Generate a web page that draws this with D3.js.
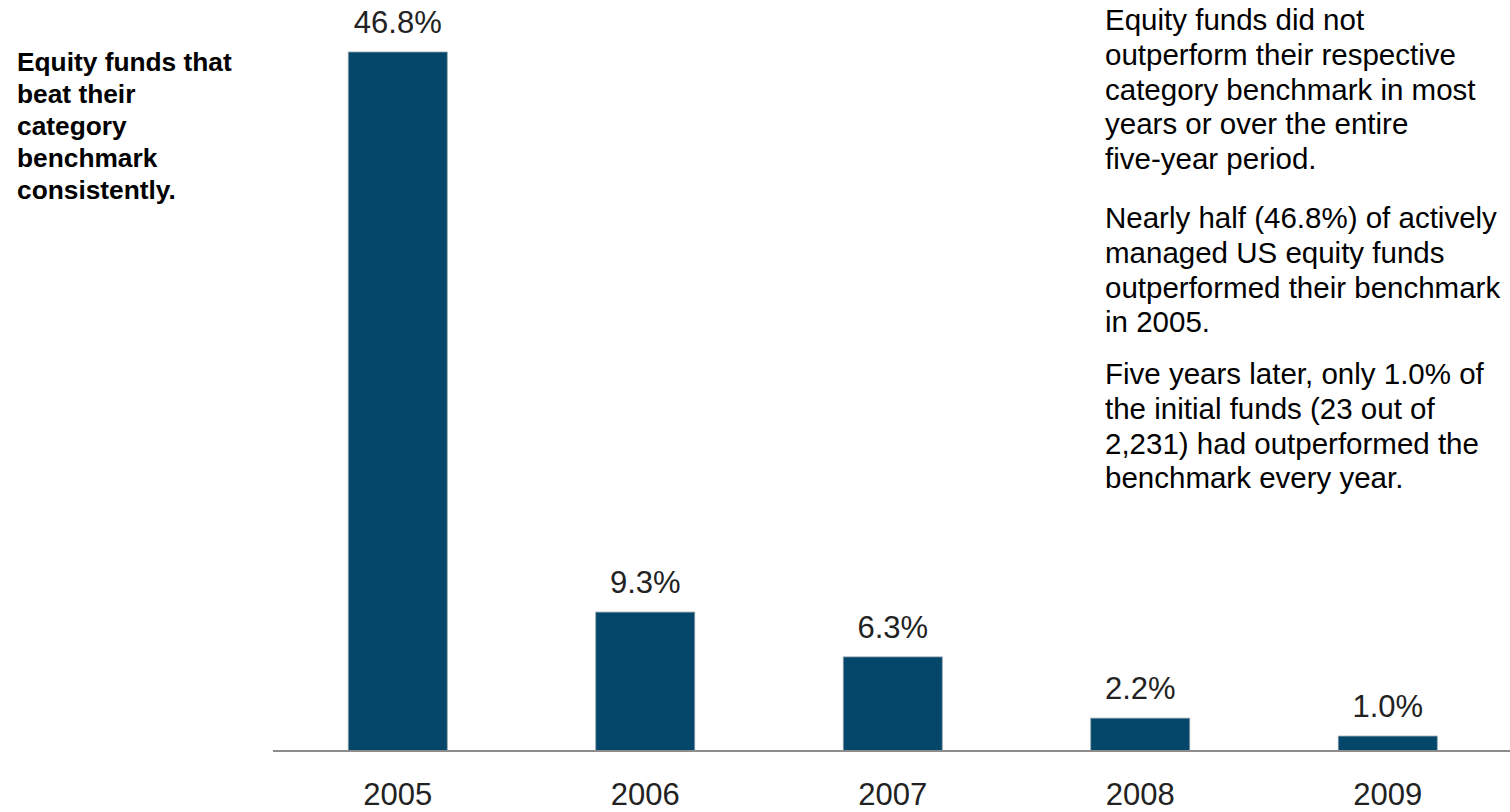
<!DOCTYPE html>
<html>
<head>
<meta charset="utf-8">
<script src="https://cdn.jsdelivr.net/npm/d3@7"></script>
<style>
  html, body { margin: 0; padding: 0; background: #fff; }
  svg { display: block; font-family: "Liberation Sans", Arial, Helvetica, sans-serif; }
</style>
</head>
<body>
<svg id="chart" width="1510" height="812"></svg>
<script>
// Share of equity funds beating their category benchmark, by year
const years = ["2005", "2006", "2007", "2008", "2009"];
const shares = [46.8, 9.3, 6.3, 2.2, 1.0];
const valueLabels = ["46.8%", "9.3%", "6.3%", "2.2%", "1.0%"];

const sideTitle = ["Equity funds that", "beat their", "category", "benchmark", "consistently."];
const notes = [
  ["Equity funds did not", "outperform their respective", "category benchmark in most", "years or over the entire", "five-year period."],
  ["Nearly half (46.8%) of actively", "managed US equity funds", "outperformed their benchmark", "in 2005."],
  ["Five years later, only 1.0% of", "the initial funds (23 out of", "2,231) had outperformed the", "benchmark every year."]
];

const svg = d3.select("#chart");
const baseY = 751;

const x = d3.scaleBand()
  .domain(years)
  .range([274, 1511.5])
  .paddingInner(0.6)
  .paddingOuter(0.3);

const y = d3.scaleLinear()
  .domain([0, d3.max(shares)])
  .range([baseY, 52]);

const data = years.map((yr, i) => ({ year: yr, value: shares[i], label: valueLabels[i] }));

// bars
svg.append("g")
  .selectAll("rect")
  .data(data)
  .join("rect")
  .attr("x", d => x(d.year))
  .attr("y", d => y(d.value))
  .attr("width", x.bandwidth())
  .attr("height", d => y(0) - y(d.value))
  .attr("fill", "#04476a")
  .attr("stroke", "#8fa0ab")
  .attr("stroke-width", 0.8);

// value labels above bars
svg.append("g")
  .selectAll("text")
  .data(data)
  .join("text")
  .attr("x", d => x(d.year) + x.bandwidth() / 2)
  .attr("y", d => y(d.value) - 19)
  .attr("text-anchor", "middle")
  .attr("font-size", 31)
  .attr("fill", "#222")
  .text(d => d.label);

// category axis
const axis = svg.append("g")
  .attr("transform", `translate(0,${baseY})`)
  .call(d3.axisBottom(x).tickSize(0).tickPadding(32));
axis.select(".domain")
  .attr("stroke", "#8c8c8c")
  .attr("stroke-width", 2)
  .attr("d", "M273,0H1510");
axis.selectAll(".tick text")
  .attr("font-size", 31)
  .attr("font-family", "'Liberation Sans', Arial, sans-serif")
  .attr("fill", "#222");

// side title
svg.append("text")
  .attr("x", 17)
  .attr("y", 71)
  .attr("font-size", 26.3)
  .attr("font-weight", "bold")
  .attr("fill", "#000")
  .selectAll("tspan")
  .data(sideTitle)
  .join("tspan")
  .attr("x", 17)
  .attr("dy", (d, i) => i === 0 ? 0 : 32)
  .text(d => d);

// commentary paragraphs
const paraTop = [30, 228, 384];
const lineGap = 34.8;
const notesG = svg.append("g");
notes.forEach((lines, p) => {
  notesG.append("text")
    .attr("x", 1105)
    .attr("y", paraTop[p])
    .attr("font-size", 29.5)
    .attr("fill", "#000")
    .selectAll("tspan")
    .data(lines)
    .join("tspan")
    .attr("x", 1105)
    .attr("dy", (d, i) => i === 0 ? 0 : lineGap)
    .text(d => d);
});
</script>
</body>
</html>
